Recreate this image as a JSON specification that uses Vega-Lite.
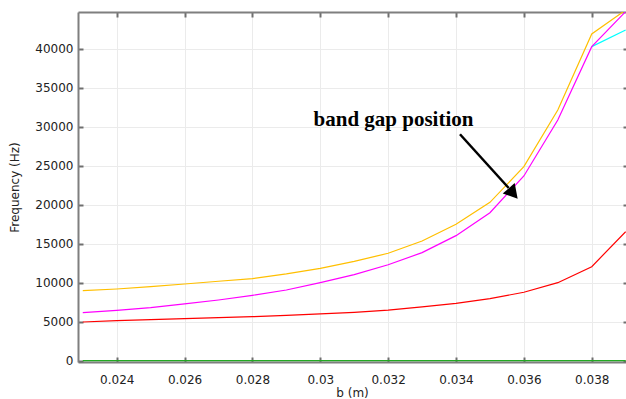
{
  "$schema": "https://vega.github.io/schema/vega-lite/v6.json",
  "width": 548,
  "height": 350,
  "autosize": {"type": "none"},
  "padding": {"left": 78, "top": 12, "right": 0, "bottom": 37},
  "background": "white",
  "config": {
    "view": {"stroke": null},
    "font": "DejaVu Sans",
    "axis": {
      "labelFont": "DejaVu Sans",
      "labelFontSize": 12,
      "labelColor": "#222222",
      "titleFont": "DejaVu Sans",
      "titleFontSize": 12,
      "titleFontWeight": "normal",
      "titleColor": "#222222",
      "domainColor": "#7f7f7f",
      "domainWidth": 2,
      "tickColor": "#6f6f6f",
      "tickWidth": 2,
      "gridColor": "#ebebeb",
      "gridWidth": 1
    }
  },
  "datasets": {
    "series": [
      {"b": 0.023, "f": 0, "mode": "green"}, {"b": 0.024, "f": 0, "mode": "green"}, {"b": 0.025, "f": 0, "mode": "green"}, {"b": 0.026, "f": 0, "mode": "green"}, {"b": 0.027, "f": 0, "mode": "green"}, {"b": 0.028, "f": 0, "mode": "green"}, {"b": 0.029, "f": 0, "mode": "green"}, {"b": 0.030, "f": 0, "mode": "green"}, {"b": 0.031, "f": 0, "mode": "green"}, {"b": 0.032, "f": 0, "mode": "green"}, {"b": 0.033, "f": 0, "mode": "green"}, {"b": 0.034, "f": 0, "mode": "green"}, {"b": 0.035, "f": 0, "mode": "green"}, {"b": 0.036, "f": 0, "mode": "green"}, {"b": 0.037, "f": 0, "mode": "green"}, {"b": 0.038, "f": 0, "mode": "green"}, {"b": 0.039, "f": 0, "mode": "green"},
      {"b": 0.023, "f": 4960, "mode": "red"}, {"b": 0.024, "f": 5130, "mode": "red"}, {"b": 0.025, "f": 5260, "mode": "red"}, {"b": 0.026, "f": 5390, "mode": "red"}, {"b": 0.027, "f": 5510, "mode": "red"}, {"b": 0.028, "f": 5640, "mode": "red"}, {"b": 0.029, "f": 5810, "mode": "red"}, {"b": 0.030, "f": 5990, "mode": "red"}, {"b": 0.031, "f": 6200, "mode": "red"}, {"b": 0.032, "f": 6480, "mode": "red"}, {"b": 0.033, "f": 6900, "mode": "red"}, {"b": 0.034, "f": 7350, "mode": "red"}, {"b": 0.035, "f": 7950, "mode": "red"}, {"b": 0.036, "f": 8770, "mode": "red"}, {"b": 0.037, "f": 10000, "mode": "red"}, {"b": 0.038, "f": 12050, "mode": "red"}, {"b": 0.039, "f": 16540, "mode": "red"},
      {"b": 0.038, "f": 40260, "mode": "cyan"}, {"b": 0.039, "f": 42400, "mode": "cyan"},
      {"b": 0.023, "f": 6150, "mode": "magenta"}, {"b": 0.024, "f": 6460, "mode": "magenta"}, {"b": 0.025, "f": 6800, "mode": "magenta"}, {"b": 0.026, "f": 7270, "mode": "magenta"}, {"b": 0.027, "f": 7780, "mode": "magenta"}, {"b": 0.028, "f": 8380, "mode": "magenta"}, {"b": 0.029, "f": 9060, "mode": "magenta"}, {"b": 0.030, "f": 10000, "mode": "magenta"}, {"b": 0.031, "f": 11030, "mode": "magenta"}, {"b": 0.032, "f": 12300, "mode": "magenta"}, {"b": 0.033, "f": 13850, "mode": "magenta"}, {"b": 0.034, "f": 16030, "mode": "magenta"}, {"b": 0.035, "f": 18970, "mode": "magenta"}, {"b": 0.036, "f": 23680, "mode": "magenta"}, {"b": 0.037, "f": 30860, "mode": "magenta"}, {"b": 0.038, "f": 40260, "mode": "magenta"}, {"b": 0.039, "f": 44750, "mode": "magenta"},
      {"b": 0.023, "f": 8970, "mode": "orange"}, {"b": 0.024, "f": 9190, "mode": "orange"}, {"b": 0.025, "f": 9490, "mode": "orange"}, {"b": 0.026, "f": 9830, "mode": "orange"}, {"b": 0.027, "f": 10180, "mode": "orange"}, {"b": 0.028, "f": 10510, "mode": "orange"}, {"b": 0.029, "f": 11120, "mode": "orange"}, {"b": 0.030, "f": 11840, "mode": "orange"}, {"b": 0.031, "f": 12740, "mode": "orange"}, {"b": 0.032, "f": 13770, "mode": "orange"}, {"b": 0.033, "f": 15350, "mode": "orange"}, {"b": 0.034, "f": 17480, "mode": "orange"}, {"b": 0.035, "f": 20300, "mode": "orange"}, {"b": 0.036, "f": 24870, "mode": "orange"}, {"b": 0.037, "f": 32140, "mode": "orange"}, {"b": 0.038, "f": 41885, "mode": "orange"}, {"b": 0.039, "f": 44950, "mode": "orange"}
    ],
    "label": [{"b": 0.032157, "f": 30090, "text": "band gap position"}],
    "arrow": [{"b": 0.034117, "f": 29026, "b2": 0.035553, "f2": 22141}],
    "head": [{"b": 0.035685, "f": 21436}]
  },
  "resolve": {"axis": {"x": "independent", "y": "independent"}},
  "layer": [
    {
      "data": {"name": "series"},
      "mark": {"type": "line", "strokeWidth": 1.2, "clip": true},
      "encoding": {
        "x": {
          "field": "b", "type": "quantitative",
          "scale": {"domain": [0.022859, 0.03901], "nice": false, "zero": false},
          "axis": {"orient": "bottom", "title": "b (m)", "values": [0.024, 0.026, 0.028, 0.03, 0.032, 0.034, 0.036, 0.038], "format": "~g", "tickSize": -5, "labelPadding": 17, "titlePadding": 2, "grid": true}
        },
        "y": {
          "field": "f", "type": "quantitative",
          "scale": {"domain": [-170, 44700], "nice": false, "zero": false},
          "axis": {"orient": "left", "title": "Frequency (Hz)", "values": [0, 5000, 10000, 15000, 20000, 25000, 30000, 35000, 40000], "format": "d", "tickSize": -5, "labelPadding": 10, "titlePadding": 13, "grid": true}
        },
        "color": {
          "field": "mode", "type": "nominal",
          "scale": {"domain": ["green", "red", "cyan", "magenta", "orange"], "range": ["#22aa22", "#ff0000", "#00ffff", "#ff00ff", "#ffbf00"]},
          "legend": null
        },
        "order": {"field": "b", "type": "quantitative"}
      }
    },
    {
      "data": {"name": "label"},
      "mark": {"type": "text", "font": "Liberation Serif", "fontWeight": "bold", "fontSize": 21, "align": "center", "baseline": "alphabetic", "color": "#000000"},
      "encoding": {
        "x": {"field": "b", "type": "quantitative", "axis": {"orient": "top", "labels": false, "title": null, "grid": false, "tickSize": -5, "values": [0.024, 0.026, 0.028, 0.03, 0.032, 0.034, 0.036, 0.038]}},
        "y": {"field": "f", "type": "quantitative", "axis": {"orient": "right", "labels": false, "title": null, "grid": false, "domain": false, "tickSize": -3, "values": [0, 5000, 10000, 15000, 20000, 25000, 30000, 35000, 40000]}},
        "text": {"field": "text", "type": "nominal"}
      }
    },
    {
      "data": {"name": "arrow"},
      "mark": {"type": "rule", "strokeWidth": 2.5, "color": "#000000"},
      "encoding": {
        "x": {"field": "b", "type": "quantitative", "axis": null},
        "y": {"field": "f", "type": "quantitative", "axis": null},
        "x2": {"field": "b2"},
        "y2": {"field": "f2"}
      }
    },
    {
      "data": {"name": "head"},
      "mark": {"type": "point", "shape": "triangle-up", "size": 250, "angle": 139, "filled": true, "color": "#000000", "opacity": 1},
      "encoding": {
        "x": {"field": "b", "type": "quantitative", "axis": null},
        "y": {"field": "f", "type": "quantitative", "axis": null}
      }
    }
  ]
}
